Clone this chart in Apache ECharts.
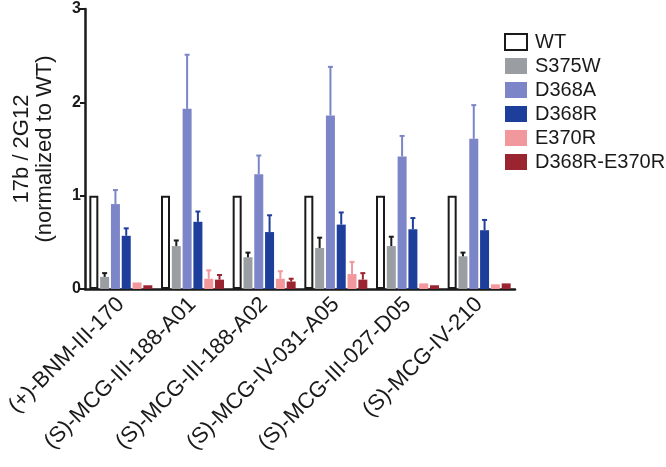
<!DOCTYPE html>
<html>
<head>
<meta charset="utf-8">
<script src="https://cdn.jsdelivr.net/npm/echarts@6/dist/echarts.min.js"></script>
<style>
html,body{margin:0;padding:0;background:#fff;}
#chart{width:666px;height:467px;}
</style>
</head>
<body>
<div id="chart"></div>
<script>
const categories = ['(+)-BNM-III-170','(S)-MCG-III-188-A01','(S)-MCG-III-188-A02','(S)-MCG-IV-031-A05','(S)-MCG-III-027-D05','(S)-MCG-IV-210'];
const seriesNames = ['WT','S375W','D368A','D368R','E370R','D368R-E370R'];
const yTicks = [0, 1, 2, 3];

const wtValues    = [1, 1, 1, 1, 1, 1];
const s375wValues = [0.13, 0.46, 0.34, 0.44, 0.46, 0.35];
const d368aValues = [0.91, 1.93, 1.23, 1.86, 1.42, 1.61];
const d368rValues = [0.57, 0.72, 0.61, 0.69, 0.64, 0.63];
const e370rValues = [0.07, 0.11, 0.11, 0.16, 0.06, 0.05];
const dreValues   = [0.04, 0.10, 0.08, 0.10, 0.04, 0.06];

const wtErr    = [0, 0, 0, 0, 0, 0];
const s375wErr = [0.04, 0.06, 0.05, 0.11, 0.10, 0.04];
const d368aErr = [0.15, 0.58, 0.20, 0.52, 0.22, 0.36];
const d368rErr = [0.08, 0.11, 0.18, 0.13, 0.12, 0.11];
const e370rErr = [0, 0.09, 0.08, 0.13, 0, 0];
const dreErr   = [0, 0.05, 0.03, 0.07, 0, 0];

const allValues = [wtValues, s375wValues, d368aValues, d368rValues, e370rValues, dreValues];
const allErrs = [wtErr, s375wErr, d368aErr, d368rErr, e370rErr, dreErr];
const fills = ['#ffffff', '#9a9ea3', '#7c85c7', '#1e3e9c', '#f2979c', '#9a2430'];
const errColors = ['#111111', '#1a1a1a', '#7c85c7', '#1e3e9c', '#f2979c', '#9a2430'];

const FONT = 'Liberation Sans, Arial, Helvetica, sans-serif';
const BAR_W = 9;
const BAR_GAP = 0.2; // fraction of bar width
const STEP = BAR_W * (1 + BAR_GAP);

const series = [];
seriesNames.forEach((name, si) => {
  series.push({
    name: name,
    type: 'bar',
    data: allValues[si],
    barWidth: BAR_W,
    barGap: (BAR_GAP * 100) + '%',
    itemStyle: si === 0
      ? { color: '#ffffff', borderColor: '#1a1a1a', borderWidth: 2 }
      : { color: fills[si] },
    z: 2
  });
});
seriesNames.forEach((name, si) => {
  if (si === 0) return;
  series.push({
    name: 'err-' + name,
    type: 'custom',
    z: 3,
    data: allValues[si].map((v, i) => [i, v, allErrs[si][i]]),
    renderItem: function (params, api) {
      const idx = api.value(0), v = api.value(1), e = api.value(2);
      if (!e) return null;
      const base = api.coord([idx, v]);
      const top = api.coord([idx, v + e]);
      const x = base[0] + (si - 2.5) * STEP;
      const style = { stroke: errColors[si], lineWidth: 2 };
      return {
        type: 'group',
        children: [
          { type: 'line', shape: { x1: x, y1: base[1], x2: x, y2: top[1] }, style: style },
          { type: 'line', shape: { x1: x - 2.5, y1: top[1], x2: x + 2.5, y2: top[1] }, style: style }
        ]
      };
    }
  });
});

const chart = echarts.init(document.getElementById('chart'), null, { renderer: 'canvas' });
chart.setOption({
  animation: false,
  backgroundColor: '#ffffff',
  textStyle: { fontFamily: FONT },
  grid: { left: 85, right: 151, top: 9, bottom: 178, containLabel: false },
  legend: {
    data: seriesNames,
    orient: 'vertical',
    left: 499,
    top: 27,
    itemWidth: 22,
    itemHeight: 16,
    itemGap: 4,
    icon: 'rect',
    textStyle: { fontFamily: FONT, fontSize: 20, color: '#1a1a1a', lineHeight: 20, padding: [0, 0, 0, 3] },
    selectedMode: false
  },
  xAxis: {
    type: 'category',
    data: categories,
    boundaryGap: true,
    axisLine: { lineStyle: { color: '#1a1a1a', width: 2.5 } },
    axisTick: { alignWithLabel: true, length: 5, lineStyle: { color: '#1a1a1a', width: 2 } },
    axisLabel: { rotate: 45, margin: 12, fontSize: 22, color: '#1a1a1a', fontFamily: FONT, interval: 0 }
  },
  yAxis: {
    type: 'value',
    min: yTicks[0],
    max: yTicks[yTicks.length - 1],
    interval: 1,
    name: '17b / 2G12\n(normalized to WT)',
    nameLocation: 'middle',
    nameGap: 29,
    nameTextStyle: { fontSize: 22, color: '#1a1a1a', fontFamily: FONT, lineHeight: 23 },
    axisLine: { show: true, lineStyle: { color: '#1a1a1a', width: 2.5 } },
    axisTick: { show: true, length: 5, lineStyle: { color: '#1a1a1a', width: 2 } },
    axisLabel: { fontSize: 16, fontWeight: 'bold', color: '#1a1a1a', margin: 4, fontFamily: FONT },
    splitLine: { show: false }
  },
  series: series
});
</script>
</body>
</html>
